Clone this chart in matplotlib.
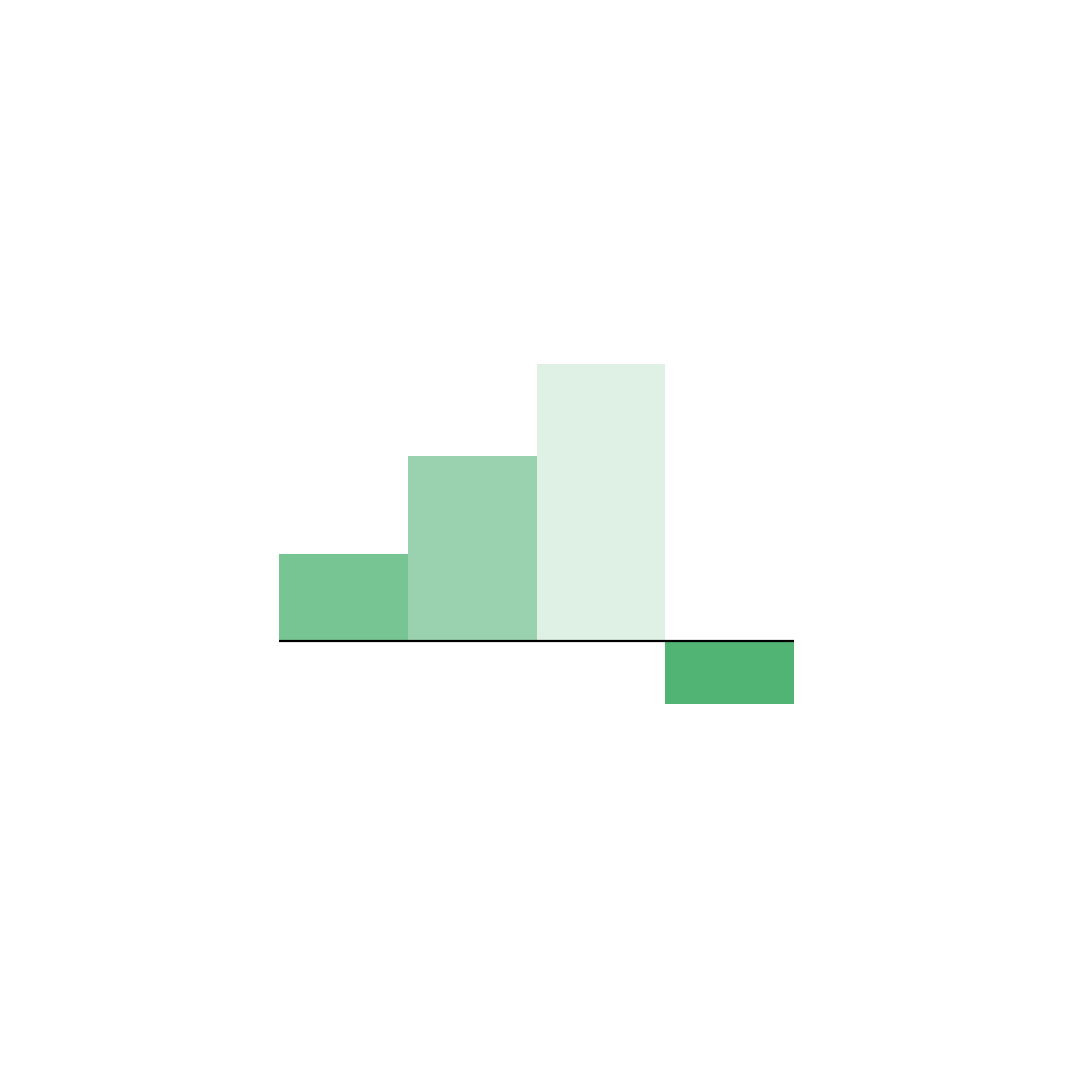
import matplotlib
matplotlib.use("Agg")
import matplotlib.pyplot as plt

# valores (unidades arbitrárias)
categorias = ["A", "B", "C", "D"]
valores = [87, 185, 277, -63]
cores = ["#77C592", "#9AD1AE", "#DFF0E4", "#52B474"]

fig = plt.figure(figsize=(10.8, 10.8), dpi=100)
ax = fig.add_axes([279 / 1080, (1080 - 704) / 1080, 515 / 1080, 340 / 1080])

x = range(len(categorias))
ax.bar(x, valores, width=1.0, color=cores, linewidth=0)
ax.axhline(0, color="black", linewidth=1.6)

ax.set_xlim(-0.5, len(categorias) - 0.5)
ax.set_ylim(min(valores), max(valores))
ax.axis("off")

fig.savefig("out.png", dpi=100, facecolor="white")
